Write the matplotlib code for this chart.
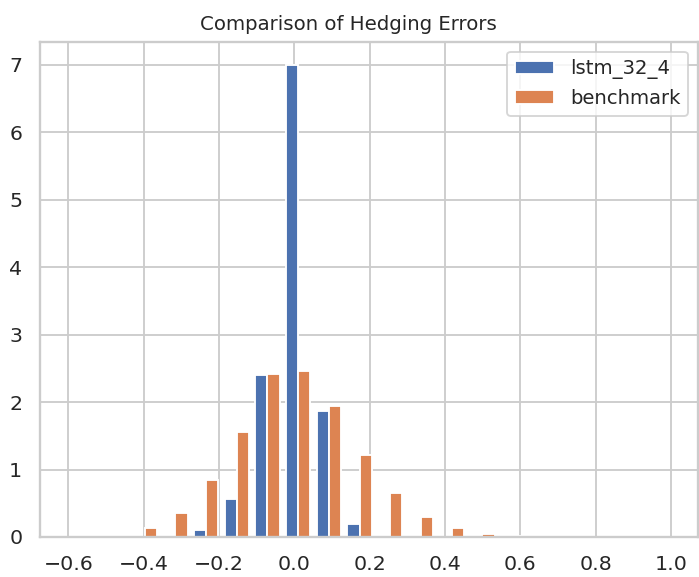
import numpy as np
import matplotlib
matplotlib.use("Agg")
import matplotlib.pyplot as plt
import seaborn as sns

# ---- data (density per bin) ----
bin_start = -0.601
bin_width = 0.0815
n_bins = 20
lstm_density = [0.0, 0.0, 0.0, 0.0, 0.10, 0.56, 2.40, 6.99, 1.86, 0.20,
                0.0, 0.0, 0.0, 0.0, 0.0, 0.0, 0.0, 0.0, 0.0, 0.0]
bench_density = [0.0, 0.01, 0.13, 0.35, 0.84, 1.56, 2.42, 2.46, 1.94, 1.22,
                 0.65, 0.29, 0.13, 0.05, 0.01, 0.0, 0.0, 0.0, 0.0, 0.0]
labels = ["lstm_32_4", "benchmark"]
title = "Comparison of Hedging Errors"

sns.set_theme(style="whitegrid")
plt.rcParams['font.family'] = ['DejaVu Sans']

DPI = 134.5
fig = plt.figure(figsize=(699 / DPI, 577 / DPI), dpi=DPI)
ax = fig.add_axes([40 / 699, 40 / 577, 658 / 699, (537 - 41.7) / 577])

edges = bin_start + bin_width * np.arange(n_bins + 1)
centers = (edges[:-1] + edges[1:]) / 2
ax.hist([centers, centers], bins=edges, weights=[lstm_density, bench_density],
        label=labels)
ax.set_xlim(-0.6754, 1.0722)
ax.set_title(title, fontsize=10.6, x=0.469)
ax.legend(loc="upper right", fontsize=10.5)

fig.savefig("out.png", dpi=DPI)
